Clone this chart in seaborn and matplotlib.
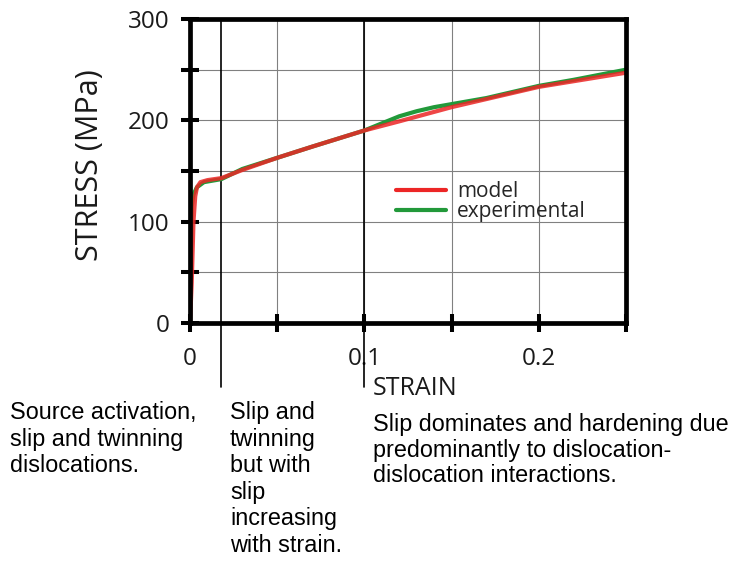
import matplotlib
matplotlib.use("Agg")
import matplotlib.pyplot as plt
import numpy as np
import pandas as pd
import seaborn as sns

# Stress-strain curves (strain, stress in MPa)
model_strain = [0.0, 0.001, 0.002, 0.003, 0.004, 0.006, 0.010, 0.018, 0.030, 0.050,
                0.070, 0.100, 0.120, 0.150, 0.200, 0.250]
model_stress = [0, 40, 100, 125, 134, 139, 141, 143, 151, 163,
                174, 190, 199, 213, 233, 247]

exp_strain = [0.0, 0.0005, 0.001, 0.002, 0.004, 0.008, 0.018, 0.030, 0.050, 0.070,
              0.100, 0.110, 0.120, 0.130, 0.140, 0.150, 0.170, 0.200, 0.220, 0.250]
exp_stress = [0, 60, 115, 127, 134, 139, 142, 152, 163, 174,
              190, 197, 204, 209, 213, 216, 222, 234, 240, 250]

series_names = ["model", "experimental"]
series_colors = ["#ec2626", "#22993a"]

x_ticks = [0.0, 0.05, 0.10, 0.15, 0.20, 0.25]
x_tick_labels = ["0", "", "0.1", "", "0.2", ""]
y_ticks = [0, 50, 100, 150, 200, 250, 300]
y_tick_labels = ["0", "", "100", "", "200", "", "300"]

regime_bounds = [0.018, 0.10]
regime_notes = [
    "Source activation,\nslip and twinning\ndislocations.",
    "Slip and\ntwinning\nbut with\nslip\nincreasing\nwith strain.",
    "Slip dominates and hardening due\npredominantly to dislocation-\ndislocation interactions.",
]

sns.set_theme(style="white")
plt.rcParams["font.family"] = ["Open Sans", "DejaVu Sans"]

W, H = 738, 563
fig = plt.figure(figsize=(W / 100, H / 100), dpi=100)
ax = fig.add_axes([190 / W, 1 - 323 / H, (626 - 190) / W, (323 - 19) / H])

df = pd.concat([
    pd.DataFrame({"strain": exp_strain, "stress": exp_stress, "series": series_names[1]}),
    pd.DataFrame({"strain": model_strain, "stress": model_stress, "series": series_names[0]}),
])
sns.lineplot(data=df, x="strain", y="stress", hue="series",
             hue_order=[series_names[1], series_names[0]],
             palette={series_names[0]: series_colors[0], series_names[1]: series_colors[1]},
             linewidth=3.0, sort=False, estimator=None, ax=ax, zorder=5)
for ln in ax.lines:
    if ln.get_color() == series_colors[0]:
        ln.set_alpha(0.85)

ax.set_xlim(0, 0.25)
ax.set_ylim(0, 300)
ax.set_xticks(x_ticks)
ax.set_xticklabels(x_tick_labels)
ax.set_yticks(y_ticks)
ax.set_yticklabels(y_tick_labels)
ax.grid(True, color="#808080", linewidth=0.8)
ax.set_axisbelow(True)

for s in ax.spines.values():
    s.set_linewidth(3.4)
    s.set_color("black")
    s.set_zorder(6)

ax.tick_params(axis="both", direction="inout", length=13, width=2.9,
               color="black", labelsize=17.5, labelcolor="#1a1a1a",
               bottom=True, left=True)
ax.tick_params(axis="x", pad=11)
ax.tick_params(axis="y", pad=8)

ax.set_xlabel("")
ax.set_ylabel("STRESS (MPa)", fontsize=22, color="#1a1a1a")
ax.yaxis.set_label_coords(-0.195, 0.52)

# regime boundaries extending below the axis
for b in regime_bounds:
    ax.axvline(b, ymin=-0.21, ymax=1, color="black", linewidth=1.2,
               clip_on=False, zorder=4)

fig.text(373 / W, 1 - 376 / H, "STRAIN", fontsize=18, color="#1a1a1a",
         ha="left", va="top")

# legend
handles, labels = ax.get_legend_handles_labels()
order = [labels.index(n) for n in series_names]
leg = ax.legend([handles[i] for i in order], [labels[i] for i in order],
                frameon=False, fontsize=15, handlelength=2.4,
                handletextpad=0.5, labelspacing=-0.05,
                loc="upper left", bbox_to_anchor=(386 / W, 1 - 171 / H),
                bbox_transform=fig.transFigure, borderpad=0)
for lh in leg.get_lines():
    lh.set_alpha(1)
    lh.set_linewidth(3.0)

note_font = ["Liberation Sans", "DejaVu Sans"]
fig.text(10 / W, 1 - 401 / H, regime_notes[0], family=note_font, fontsize=16.8,
         ha="left", va="top", linespacing=1.2, color="black")
fig.text(230 / W, 1 - 401 / H, regime_notes[1], family=note_font, fontsize=16.8,
         ha="left", va="top", linespacing=1.2, color="black")
fig.text(373 / W, 1 - 413 / H, regime_notes[2], family=note_font, fontsize=16.8,
         ha="left", va="top", linespacing=1.15, color="black")

fig.savefig("out.png", dpi=100, facecolor="white")
